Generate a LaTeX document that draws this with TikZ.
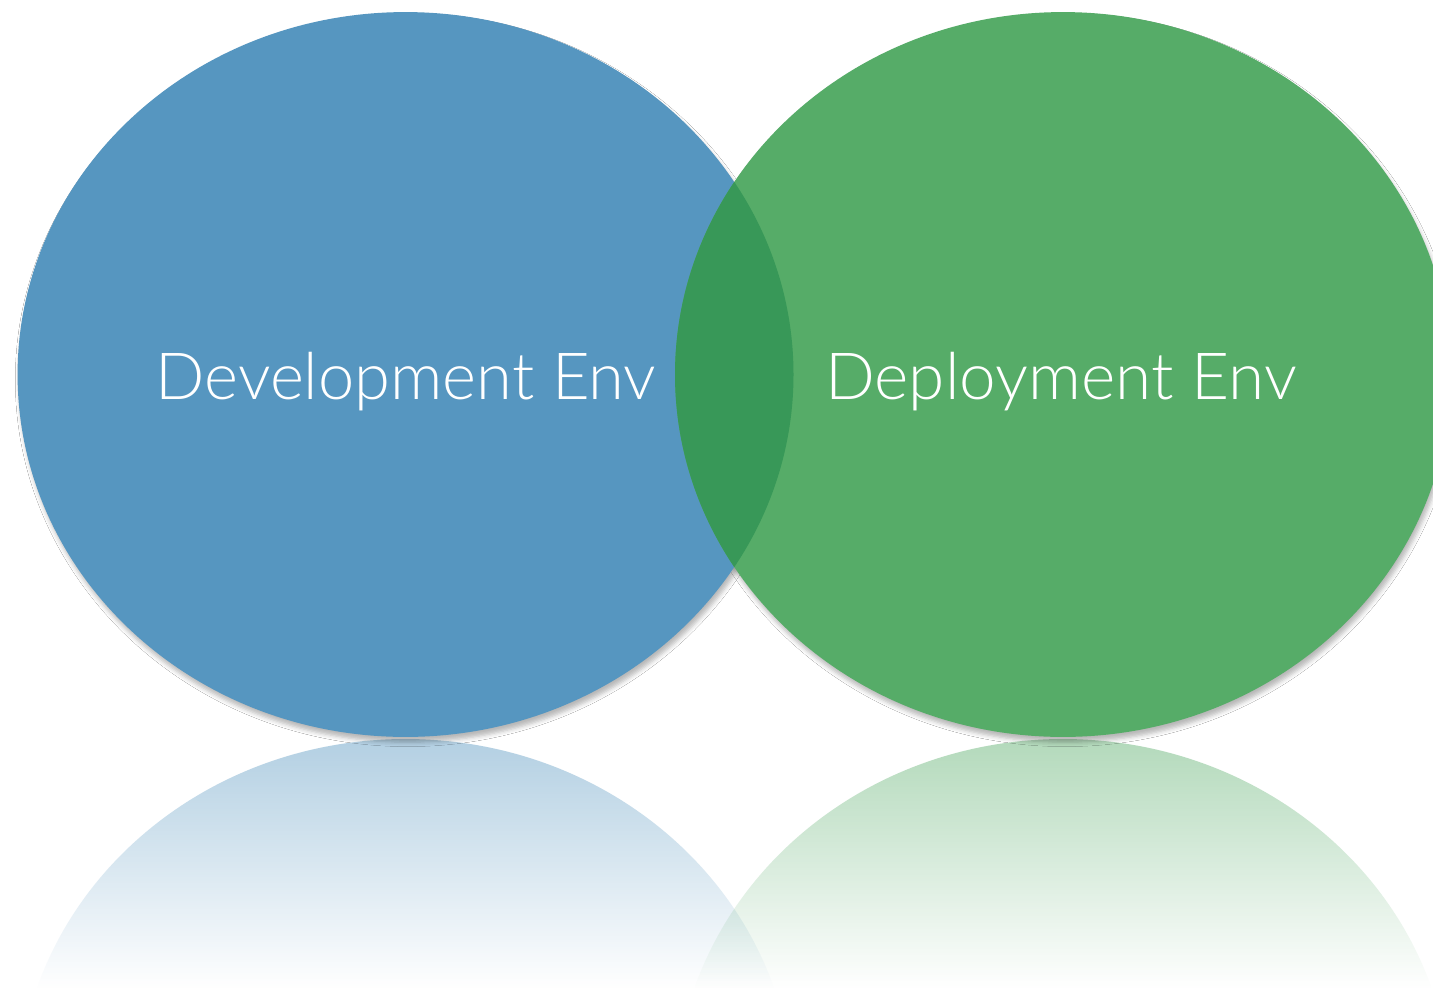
\documentclass[tikz,border=0pt]{standalone}
\usepackage{fontspec}
\setmainfont{Lato Light}
\usetikzlibrary{shapes.geometric,shadows.blur,fadings}
\definecolor{devblue}{HTML}{5696C0}
\definecolor{depgreen}{HTML}{56AC68}
\definecolor{overlapgreen}{HTML}{389858}
\tikzfading[name=reflfade, top color=transparent!55, bottom color=transparent!100]
\begin{document}
\begin{tikzpicture}[x=0.02cm,y=-0.02cm,
  env/.style={ellipse, minimum width=15.52cm, minimum height=14.5cm, inner sep=0pt},
  envshadow/.style={env, blur shadow={shadow xshift=1.2pt, shadow yshift=-3pt, shadow blur radius=2.5pt, shadow opacity=28}},
  envlabel/.style={text=white, font=\fontsize{37}{41}\selectfont, anchor=base, inner sep=0pt}]
\fill[white] (0,0) rectangle (1433,988);
\useasboundingbox (0,0) rectangle (1433,988);
% reflections
\begin{scope}
  \clip (405.5,1101.5) ellipse [x radius=388, y radius=362.5];
  \fill[devblue, path fading=reflfade] (0,739) rectangle (800,988);
\end{scope}
\begin{scope}
  \clip (1063,1101.5) ellipse [x radius=388, y radius=362.5];
  \fill[depgreen, path fading=reflfade] (670,739) rectangle (1433,988);
\end{scope}
% shadows
\node[envshadow] (devshadow) at (405.5,374.5) {};
\node[envshadow] (depshadow) at (1063,374.5) {};
% ellipses
\node[env, fill=devblue] (dev) at (405.5,374.5) {};
\node[env, fill=depgreen] (dep) at (1063,374.5) {};
\begin{scope}
  \clip (dev.center) ellipse [x radius=388, y radius=362.5];
  \fill[overlapgreen] (dep.center) ellipse [x radius=388, y radius=362.5];
\end{scope}
% labels
\node[envlabel] (devlabel) at (406,399) {Development Env};
\node[envlabel, xscale=1.01] (deplabel) at (1061,399) {Deployment Env};
\end{tikzpicture}
\end{document}
